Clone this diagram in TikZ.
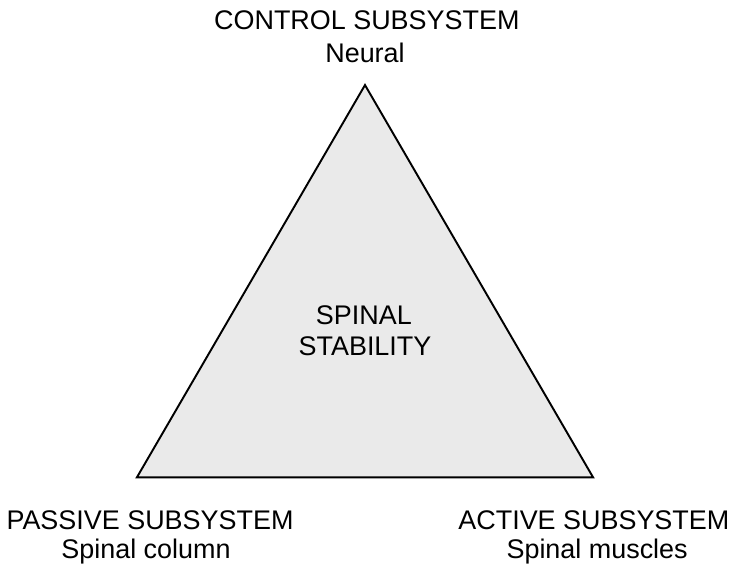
\documentclass[tikz,border=0pt]{standalone}
\usepackage{fontspec}
\setmainfont{Liberation Sans}
\usepackage{xcolor}
\usepackage{tikz}
\usetikzlibrary{positioning}
\definecolor{stabgray}{RGB}{234, 234, 234}

\begin{document}
\begin{tikzpicture}[
    title/.style={anchor=base, inner sep=0pt, font=\fontsize{21}{25}\selectfont},
    sub/.style={anchor=base, inner sep=0pt, font=\fontsize{21}{25}\selectfont},
    side/.style={draw=black, line width=1.5pt, line join=miter}
]
    \useasboundingbox (0,0) rectangle (20,-15.56);

    % Triangle
    \coordinate (top) at (10,-2.33);
    \coordinate (left) at (3.75,-13.08);
    \coordinate (right) at (16.25,-13.08);
    \fill[stabgray] (top) -- (left) -- (right) -- cycle;
    \draw[side] (top) -- (left) -- (right) -- cycle;

    % Centre
    \node[title] (spinal) at (9.97,-8.90) {SPINAL};
    \node[title] (stability) at (10,-9.73) {STABILITY};

    % Subsystems
    \node[title] (control) at (10.05,-0.82) {CONTROL SUBSYSTEM};
    \node[sub] (neural) at (10,-1.70) {Neural};

    \node[title] (passive) at (4.11,-14.52) {PASSIVE SUBSYSTEM};
    \node[sub] (column) at (4.0,-15.29) {Spinal column};

    \node[title] (active) at (16.27,-14.52) {ACTIVE SUBSYSTEM};
    \node[sub] (muscles) at (16.36,-15.29) {Spinal muscles};

\end{tikzpicture}
\end{document}
